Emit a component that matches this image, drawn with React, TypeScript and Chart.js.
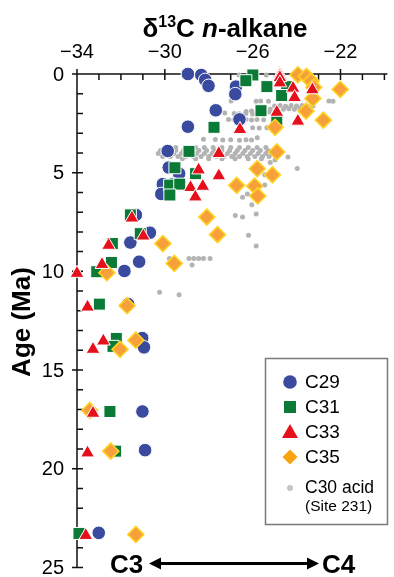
import React, { useEffect, useRef } from 'react';
import { Chart, registerables } from 'chart.js';

Chart.register(...registerables);

// ---- Data (δ13C value, age in Ma) ----
const c29X = [-28.95, -28.34, -28.16, -28.01, -26.76, -26.79, -27.68, -26.6, -28.95, -29.87, -29.82, -29.35, -30.09, -29.64, -30.16, -31.32, -30.68, -31.57, -31.17, -31.84, -31.67, -31.03, -30.95, -31.02, -30.9, -33.01];
const c29Age = [0.0, 0.05, 0.3, 0.6, 0.64, 1.02, 1.84, 2.3, 2.67, 3.9, 4.74, 5.05, 5.58, 5.58, 6.08, 7.14, 8.04, 8.54, 9.51, 9.98, 11.66, 13.38, 13.85, 17.1, 19.06, 23.25];

const c31X = [-25.99, -26.31, -25.35, -24.45, -24.68, -25.62, -27.76, -24.9, -28.9, -29.54, -28.6, -29.78, -29.32, -29.77, -31.57, -31.12, -32.39, -32.43, -33.1, -32.98, -32.21, -32.36, -32.5, -32.24, -33.91];
const c31Age = [0.05, 0.34, 0.64, 0.64, 1.09, 1.86, 2.7, 2.4, 3.92, 4.75, 5.05, 5.63, 5.58, 6.13, 7.14, 8.09, 8.59, 9.55, 10.02, 11.66, 13.4, 13.8, 17.1, 19.11, 23.28];

const c33X = [-24.76, -24.76, -24.76, -24.76, -24.16, -23.28, -24.09, -24.9, -23.94, -26.58, -27.54, -28.46, -27.54, -28.83, -28.27, -28.61, -31.5, -30.98, -32.56, -32.86, -34.0, -33.52, -32.8, -33.27, -33.27, -33.52, -33.6];
const c33Age = [0.02, 0.1, 0.18, 0.45, 0.72, 0.8, 1.19, 1.94, 2.39, 2.81, 4.03, 4.86, 5.16, 5.75, 5.69, 6.23, 7.3, 8.21, 8.68, 9.65, 10.1, 11.81, 13.53, 13.95, 17.19, 19.2, 23.38];

const c35X = [-23.94, -23.55, -23.34, -23.22, -22.01, -23.26, -23.57, -22.78, -24.98, -24.9, -25.79, -25.1, -26.73, -25.91, -25.77, -28.09, -27.6, -30.09, -29.57, -32.64, -31.72, -31.32, -32.04, -33.42, -32.46, -31.32];
const c35Age = [0.04, 0.12, 0.36, 0.67, 0.78, 1.24, 1.88, 2.34, 2.7, 3.95, 4.8, 5.11, 5.64, 5.68, 6.18, 7.25, 8.14, 8.59, 9.6, 10.07, 11.74, 13.49, 13.95, 17.05, 19.11, 23.33];

const c30X = [
  -26.62, -25.38,
  -26.98, -25.84, -25.64, -25.28, -23.13, -22.53, -22.34,
  -25.0, -24.75, -24.5, -24.25, -24.0, -23.75, -23.5, -23.25,
  -25.2, -24.9, -24.6, -24.35, -24.1, -23.85, -23.6,
  -26.3, -26.05, -25.8, -25.5, -25.25,
  -27.27, -26.84, -26.62, -26.31, -26.0,
  -27.1, -26.85, -26.3, -26.05, -25.8, -25.5,
  -26.0, -25.7, -25.35,
  -28.24, -27.7, -27.36, -27.0, -26.6, -26.3, -26.05, -25.79,
  -29.5, -29.0, -28.6, -28.2, -27.8, -27.4, -27.0, -26.6, -26.2, -25.8, -25.4,
  -30.2, -29.85, -29.5, -29.15, -28.8, -28.45, -28.1, -27.75, -27.4, -27.05, -26.7, -26.35, -26.0, -25.65, -25.3,
  -30.3, -29.95, -29.6, -29.25, -28.9, -28.55, -28.2, -27.85, -27.5, -27.15, -26.8, -26.45, -26.1, -25.75, -25.4, -25.1,
  -30.1, -29.75, -29.4, -29.05, -28.7, -28.35, -28.0, -27.65, -27.3, -26.95, -26.6, -26.25, -25.9, -25.55, -25.25,
  -29.2, -28.6, -28.0, -27.4, -26.8, -26.2, -25.6,
  -24.39, -24.98, -25.2, -23.97, -25.45, -25.45, -26.24, -26.46, -26.04, -25.84, -26.79, -26.46, -26.19, -25.84,
  -29.79, -28.9, -28.68, -28.46, -28.24, -27.94, -28.76, -30.24, -29.35,
];
const c30Age = [
  0.05, 0.05,
  1.37, 1.38, 1.37, 1.38, 1.37, 1.37, 1.38,
  1.62, 1.6, 1.63, 1.6, 1.62, 1.6, 1.63, 1.62,
  1.78, 1.75, 1.78, 1.76, 1.78, 1.75, 1.77,
  1.9, 1.88, 1.9, 1.88, 1.92,
  1.98, 2.0, 2.02, 2.0, 2.03,
  2.3, 2.32, 2.3, 2.33, 2.3, 2.32,
  2.72, 2.74, 2.72,
  3.3, 3.32, 3.35, 3.33, 3.36, 3.33, 3.35, 3.23,
  3.72, 3.72, 3.72, 3.72, 3.72, 3.72, 3.72, 3.72, 3.72, 3.72, 3.72,
  3.88, 3.88, 3.88, 3.88, 3.88, 3.88, 3.88, 3.88, 3.88, 3.88, 3.88, 3.88, 3.88, 3.88, 3.88,
  4.03, 4.03, 4.03, 4.03, 4.03, 4.03, 4.03, 4.03, 4.03, 4.03, 4.03, 4.03, 4.03, 4.03, 4.03, 4.03,
  4.18, 4.18, 4.18, 4.18, 4.18, 4.18, 4.18, 4.18, 4.18, 4.18, 4.18, 4.18, 4.18, 4.18, 4.18,
  4.3, 4.3, 4.3, 4.3, 4.3, 4.3, 4.3,
  4.2, 4.36, 4.49, 4.79, 5.11, 5.63, 6.08, 6.25, 6.63, 7.09, 7.17, 7.25, 8.17, 8.71,
  9.35, 9.35, 9.35, 9.35, 9.35, 9.35, 9.68, 11.06, 11.19,
];

const xTickValues = [-34, -30, -26, -22];
const yTickValues = [0, 5, 10, 15, 20, 25];
const X_MIN = -34;
const X_MAX = -20;
const AGE_MIN = 0;
const AGE_MAX = 25;

const legendLabels = ['C29', 'C31', 'C33', 'C35'];

const COL_BLUE = '#3A4A9E';
const COL_GREEN = '#0A7A36';
const COL_RED = '#E5101B';
const COL_ORANGE = '#F5A03A';
const COL_YELLOW = '#FFD224';
const COL_GRAY = '#B3B3B3';

const FONT = '"Liberation Sans", Arial, Helvetica, sans-serif';

const toPts = (xs: number[], ys: number[]) => xs.map((v, i) => ({ x: v, y: ys[i] }));

function drawMarker(ctx: CanvasRenderingContext2D, kind: string, x: number, y: number) {
  ctx.save();
  ctx.beginPath();
  if (kind === 'circle') {
    ctx.arc(x, y, 6.8, 0, Math.PI * 2);
    ctx.fillStyle = COL_BLUE;
  } else if (kind === 'rect') {
    ctx.rect(x - 6, y - 6, 12, 12);
    ctx.fillStyle = COL_GREEN;
  } else if (kind === 'triangle') {
    ctx.moveTo(x, y - 8);
    ctx.lineTo(x + 8, y + 6);
    ctx.lineTo(x - 8, y + 6);
    ctx.closePath();
    ctx.fillStyle = COL_RED;
  } else if (kind === 'diamond') {
    ctx.moveTo(x, y - 7.5);
    ctx.lineTo(x + 7.5, y);
    ctx.lineTo(x, y + 7.5);
    ctx.lineTo(x - 7.5, y);
    ctx.closePath();
    ctx.fillStyle = '#F8A410';
  } else {
    ctx.arc(x, y, 3, 0, Math.PI * 2);
    ctx.fillStyle = '#C4C4C4';
  }
  ctx.fill();
  ctx.restore();
}

const decorPlugin = {
  id: 'decor',
  beforeDatasetsDraw(chart: any) {
    const { ctx, chartArea: ca, scales } = chart;
    const xs = scales.x;
    const ys = scales.y;
    ctx.save();
    ctx.strokeStyle = '#111';
    ctx.lineWidth = 1.5;
    ctx.beginPath();
    ctx.moveTo(ca.left - 5, ca.top);
    ctx.lineTo(ca.right + 3, ca.top);
    ctx.moveTo(ca.left, ca.top);
    ctx.lineTo(ca.left, ca.bottom);
    for (let v = X_MIN; v <= X_MAX; v++) {
      const px = xs.getPixelForValue(v);
      const major = xTickValues.includes(v);
      ctx.moveTo(px, major ? ca.top - 5 : ca.top);
      ctx.lineTo(px, ca.top + 6);
    }
    for (let a = AGE_MIN; a <= AGE_MAX; a++) {
      const py = ys.getPixelForValue(a);
      const major = yTickValues.includes(a);
      ctx.moveTo(major ? ca.left - 5 : ca.left, py);
      ctx.lineTo(ca.left + 6, py);
    }
    ctx.stroke();

    ctx.fillStyle = '#000';
    ctx.font = `20px ${FONT}`;
    ctx.textAlign = 'center';
    ctx.textBaseline = 'alphabetic';
    xTickValues.forEach((v) => {
      ctx.fillText('\u2212' + Math.abs(v), xs.getPixelForValue(v), ca.top - 16);
    });
    ctx.textAlign = 'right';
    ctx.textBaseline = 'middle';
    yTickValues.forEach((a) => {
      ctx.fillText(String(a), ca.left - 13, ys.getPixelForValue(a) + 1);
    });
    ctx.restore();
  },
  afterDraw(chart: any) {
    const { ctx } = chart;
    ctx.save();
    ctx.fillStyle = '#000';
    ctx.textBaseline = 'alphabetic';

    // Title: δ13C n-alkane
    const big = `bold 26px ${FONT}`;
    const sup = `bold 16px ${FONT}`;
    const ital = `italic bold 26px ${FONT}`;
    const parts = [
      { t: '\u03B4', f: big, dy: 0 },
      { t: '13', f: sup, dy: -10 },
      { t: 'C ', f: big, dy: 0 },
      { t: 'n', f: ital, dy: 0 },
      { t: '-alkane', f: big, dy: 0 },
    ];
    let total = 0;
    parts.forEach((p) => {
      ctx.font = p.f;
      total += ctx.measureText(p.t).width;
    });
    let cx = 225 - total / 2;
    ctx.textAlign = 'left';
    parts.forEach((p) => {
      ctx.font = p.f;
      ctx.fillText(p.t, cx, 37 + p.dy);
      cx += ctx.measureText(p.t).width;
    });

    // Y axis title
    ctx.save();
    ctx.translate(23, 322);
    ctx.rotate(-Math.PI / 2);
    ctx.font = `bold 26px ${FONT}`;
    ctx.textAlign = 'center';
    ctx.textBaseline = 'middle';
    ctx.fillText('Age (Ma)', 0, 0);
    ctx.restore();

    // Legend box
    ctx.strokeStyle = '#7a7a7a';
    ctx.lineWidth = 1.5;
    ctx.strokeRect(265.5, 358.5, 122, 166);
    const kinds = ['circle', 'rect', 'triangle', 'diamond'];
    const rowsY = [382, 407, 432, 457];
    ctx.textAlign = 'left';
    ctx.textBaseline = 'middle';
    kinds.forEach((k, i) => {
      drawMarker(ctx, k, 290, rowsY[i]);
      ctx.fillStyle = '#000';
      ctx.font = `19px ${FONT}`;
      ctx.fillText(legendLabels[i], 305, rowsY[i] + 1);
    });
    drawMarker(ctx, 'dot', 290, 488);
    ctx.fillStyle = '#000';
    ctx.font = `17.5px ${FONT}`;
    ctx.fillText('C30 acid', 305, 488);
    ctx.font = `15.5px ${FONT}`;
    ctx.fillText('(Site 231)', 305, 507);

    // C3 <-> C4 annotation
    ctx.font = `bold 26px ${FONT}`;
    ctx.textBaseline = 'alphabetic';
    ctx.textAlign = 'left';
    ctx.fillText('C3', 110, 573);
    ctx.fillText('C4', 322, 573);
    const ay = 563.5;
    ctx.strokeStyle = '#000';
    ctx.lineWidth = 3;
    ctx.beginPath();
    ctx.moveTo(158, ay);
    ctx.lineTo(310, ay);
    ctx.stroke();
    ctx.fillStyle = '#000';
    ctx.beginPath();
    ctx.moveTo(149, ay);
    ctx.lineTo(161, ay - 6);
    ctx.lineTo(161, ay + 6);
    ctx.closePath();
    ctx.fill();
    ctx.beginPath();
    ctx.moveTo(319, ay);
    ctx.lineTo(307, ay - 6);
    ctx.lineTo(307, ay + 6);
    ctx.closePath();
    ctx.fill();
    ctx.restore();
  },
};

export default function App() {
  const canvasRef = useRef<HTMLCanvasElement | null>(null);

  useEffect(() => {
    const canvas = canvasRef.current;
    if (!canvas) return;
    const common = { showLine: false, clip: false as any };
    const chart = new Chart(canvas, {
      type: 'scatter',
      data: {
        datasets: [
          {
            ...common,
            label: 'C33',
            data: toPts(c33X, c33Age),
            pointStyle: 'triangle',
            pointRadius: 8,
            backgroundColor: COL_RED,
            borderColor: '#ffffff',
            borderWidth: 1,
          },
          {
            ...common,
            label: 'C35',
            data: toPts(c35X, c35Age),
            pointStyle: 'rectRot',
            pointRadius: 8,
            backgroundColor: COL_ORANGE,
            borderColor: COL_YELLOW,
            borderWidth: 1.6,
          },
          {
            ...common,
            label: 'C31',
            data: toPts(c31X, c31Age),
            pointStyle: 'rect',
            pointRadius: 8.5,
            backgroundColor: COL_GREEN,
            borderColor: '#ffffff',
            borderWidth: 1,
          },
          {
            ...common,
            label: 'C29',
            data: toPts(c29X, c29Age),
            pointStyle: 'circle',
            pointRadius: 6.8,
            backgroundColor: COL_BLUE,
            borderColor: '#ffffff',
            borderWidth: 1,
          },
          {
            ...common,
            label: 'C30 acid (Site 231)',
            data: toPts(c30X, c30Age),
            pointStyle: 'circle',
            pointRadius: 2.5,
            backgroundColor: COL_GRAY,
            borderWidth: 0,
          },
        ],
      },
      options: {
        responsive: false,
        animation: false,
        devicePixelRatio: 1,
        events: [],
        layout: { padding: { left: 77, top: 74, right: 4, bottom: 6 } },
        plugins: {
          legend: { display: false },
          tooltip: { enabled: false },
          title: { display: false },
        },
        scales: {
          x: { type: 'linear', display: false, min: X_MIN, max: X_MAX },
          y: { type: 'linear', display: false, reverse: true, min: AGE_MIN, max: AGE_MAX },
        },
      },
      plugins: [decorPlugin],
    });
    return () => chart.destroy();
  }, []);

  return (
    <div style={{ position: 'absolute', left: 0, top: 0, width: 394, height: 577, background: '#fff' }}>
      <canvas ref={canvasRef} width={394} height={577} style={{ display: 'block' }} />
    </div>
  );
}
